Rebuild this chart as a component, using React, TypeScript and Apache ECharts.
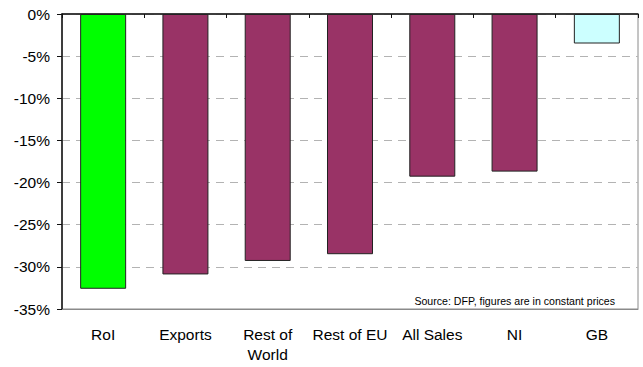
import React, { useEffect, useRef } from "react";
import * as echarts from "echarts";

const categories = ["RoI", "Exports", "Rest of\nWorld", "Rest of EU", "All Sales", "NI", "GB"];
const values = [-32.6, -30.9, -29.3, -28.5, -19.3, -18.7, -3.5];
const barColors = ["#00FF00", "#993366", "#993366", "#993366", "#993366", "#993366", "#CCFFFF"];
const sourceNote = "Source: DFP, figures are in constant prices";

export default function App() {
  const ref = useRef<HTMLDivElement>(null);
  useEffect(() => {
    if (!ref.current) return;
    const chart = echarts.init(ref.current, null, { renderer: "svg" });
    const font = "'Liberation Sans', Arial, sans-serif";
    chart.setOption({
      animation: false,
      backgroundColor: "#ffffff",
      grid: {
        left: 62,
        right: 5,
        top: 14,
        bottom: 58,
        show: true,
        borderColor: "#8a8a8a",
        borderWidth: 1,
        backgroundColor: "transparent",
      },
      xAxis: [
        {
          type: "category",
          data: categories,
          position: "bottom",
          axisLine: { show: true, onZero: false, lineStyle: { color: "#8a8a8a", width: 1 } },
          axisTick: { show: false },
          axisLabel: {
            color: "#000",
            fontFamily: font,
            fontSize: 15.5,
            lineHeight: 20,
            margin: 15,
            interval: 0,
          },
        },
        {
          type: "category",
          data: categories,
          position: "top",
          axisLine: { show: true, onZero: false, lineStyle: { color: "#111", width: 1.5 } },
          axisTick: { show: true, inside: true, length: 4, lineStyle: { color: "#111", width: 1 } },
          axisLabel: { show: false },
        },
      ],
      yAxis: {
        type: "value",
        min: -35,
        max: 0,
        interval: 5,
        axisLine: { show: true, lineStyle: { color: "#111", width: 1.5 } },
        axisTick: { show: true, length: 5, lineStyle: { color: "#111" } },
        axisLabel: {
          color: "#000",
          fontFamily: font,
          fontSize: 15.5,
          margin: 12,
          formatter: (v: number) => `${v}%`,
        },
        splitLine: { show: true, lineStyle: { color: "#b3b3b3", type: [8, 6], width: 1 } },
      },
      graphic: [
        {
          type: "text",
          right: 28,
          top: 295,
          style: {
            text: sourceNote,
            fill: "#000",
            font: `10.6px ${font}`,
          },
        },
      ],
      series: [
        {
          type: "bar",
          xAxisIndex: 0,
          barWidth: 46,
          data: values.map((v, i) => ({
            value: v,
            itemStyle: { color: barColors[i], borderColor: "#222", borderWidth: 1 },
          })),
        },
      ],
    });
    return () => chart.dispose();
  }, []);
  return (
    <div
      ref={ref}
      style={{ position: "fixed", left: 0, top: 0, width: 643, height: 367, background: "#fff" }}
    />
  );
}
